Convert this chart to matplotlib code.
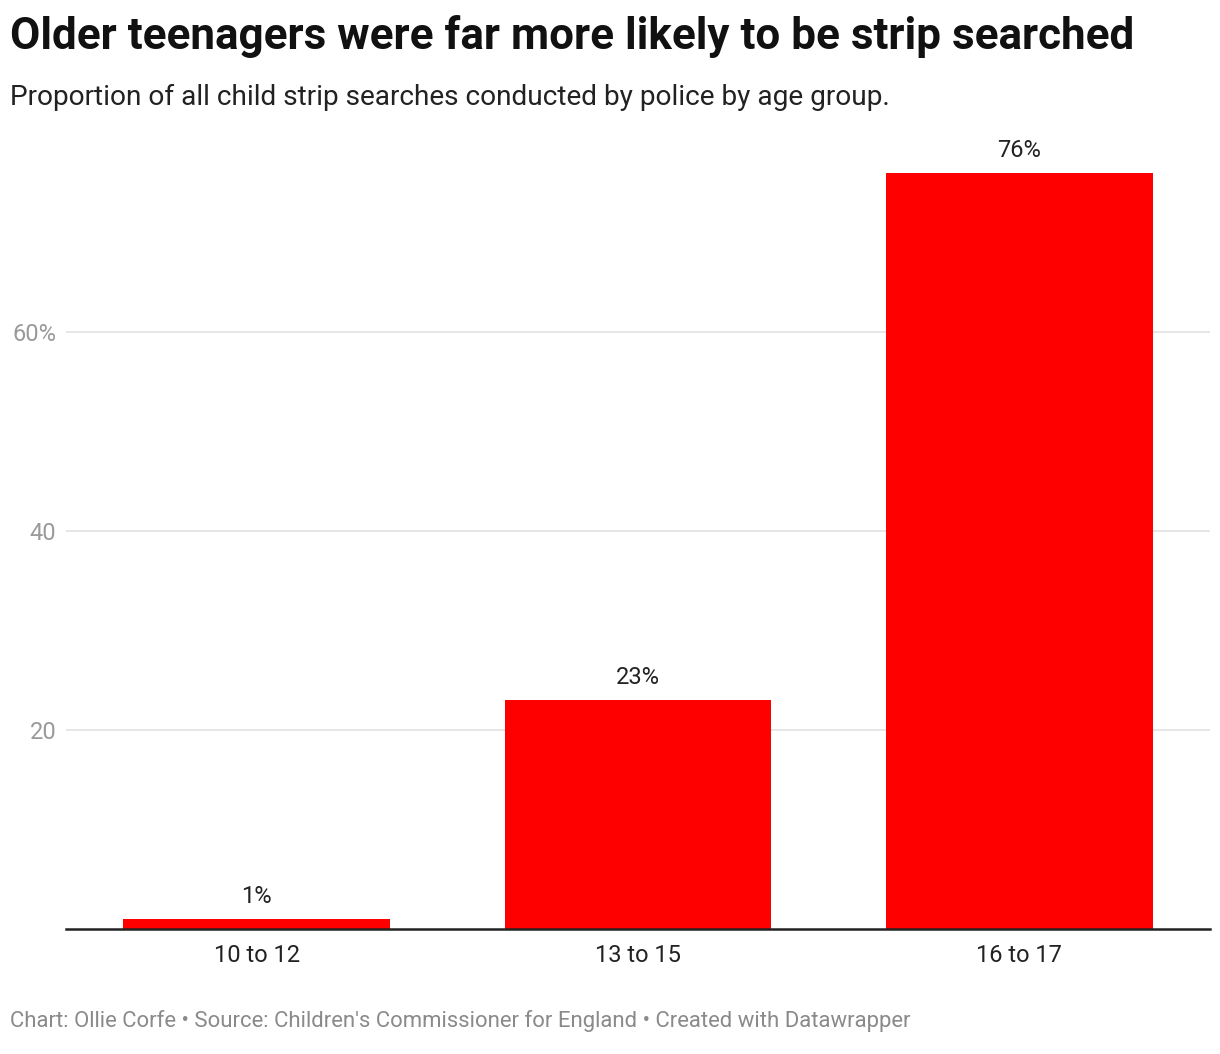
import matplotlib
matplotlib.use("Agg")
import matplotlib.pyplot as plt

# data
age_groups = ["10 to 12", "13 to 15", "16 to 17"]
share = [1, 23, 76]
y_ticks = [20, 40, 60]
y_tick_labels = ["20", "40", "60%"]

plt.rcParams["font.family"] = ["Roboto", "DejaVu Sans"]

W, H = 1220, 1054
fig = plt.figure(figsize=(W / 100, H / 100), dpi=100)

# axes placed in pixel terms
left, right, bottom, top = 66, 1210, 929, 133
ax = fig.add_axes([left / W, 1 - bottom / H, (right - left) / W, (bottom - top) / H])

x = list(range(len(age_groups)))
ax.bar(x, share, width=0.7, color="#ff0000", zorder=2)
for xi, v in zip(x, share):
    ax.annotate(f"{v}%", (xi, v), xytext=(0, 8), textcoords="offset points",
                ha="center", va="bottom", fontsize=17, color="#222222")

ax.set_xlim(-0.5, 2.5)
ax.set_ylim(0, 80)
ax.set_xticks(x)
ax.set_xticklabels(age_groups, fontsize=17, color="#222222")
ax.set_yticks(y_ticks)
ax.set_yticklabels(y_tick_labels, fontsize=17, color="#9a9a9a")
ax.tick_params(axis="x", length=0, pad=10.5)
ax.tick_params(axis="y", length=0, pad=7)
ax.grid(axis="y", color="#e2e2e2", linewidth=1.2, zorder=0)
for s in ["top", "right", "left"]:
    ax.spines[s].set_visible(False)
ax.spines["bottom"].set_color("#222222")
ax.spines["bottom"].set_linewidth(1.8)
ax.spines["bottom"].set_zorder(3)

fig.text(10 / W, 1 - 36 / H, "Older teenagers were far more likely to be strip searched",
         fontsize=31.7, fontweight="bold", color="#111111", va="center", ha="left")
fig.text(10 / W, 1 - 97 / H, "Proportion of all child strip searches conducted by police by age group.",
         fontsize=20.2, color="#222222", va="center", ha="left")
fig.text(10 / W, 1 - 1021 / H,
         "Chart: Ollie Corfe \u2022 Source: Children's Commissioner for England \u2022 Created with Datawrapper",
         fontsize=15.9, color="#8a8a8a", va="center", ha="left")

fig.savefig("out.png", dpi=100, facecolor="white")
